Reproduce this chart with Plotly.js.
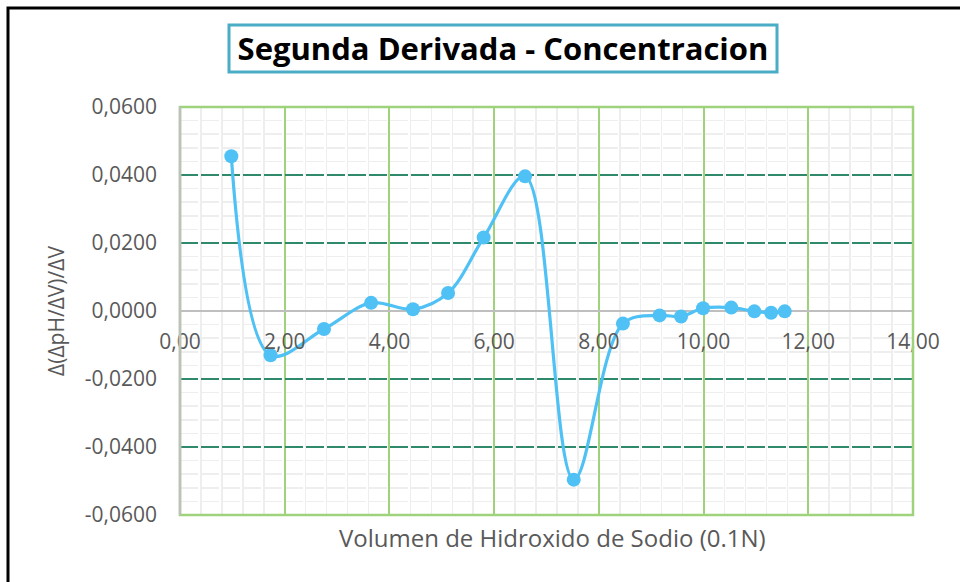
<!DOCTYPE html>
<html>
<head>
<meta charset="utf-8">
<script src="https://cdn.plot.ly/plotly-3.0.1.min.js"></script>
<style>
html,body{margin:0;padding:0;background:#fff;}
#chart{width:960px;height:582px;}
</style>
</head>
<body>
<div id="chart"></div>
<script>
// Data
var volumen = [0.98, 1.73, 2.75, 3.65, 4.45, 5.12, 5.80, 6.59, 7.52, 8.46, 9.16, 9.57, 9.99, 10.53, 10.97, 11.29, 11.55];
var segundaDerivada = [0.0455, -0.0130, -0.0053, 0.0024, 0.0005, 0.0053, 0.0216, 0.0396, -0.0496, -0.0037, -0.0013, -0.0016, 0.0008, 0.0010, -0.0001, -0.0005, -0.0001];

var xTickVals = [0, 2, 4, 6, 8, 10, 12, 14];
var xTickText = ["0,00", "2,00", "4,00", "6,00", "8,00", "10,00", "12,00", "14,00"];
var yTickVals = [-0.06, -0.04, -0.02, 0, 0.02, 0.04, 0.06];
var yTickText = ["-0,0600", "-0,0400", "-0,0200", "0,0000", "0,0200", "0,0400", "0,0600"];

var titleText = "Segunda Derivada - Concentracion";
var xTitle = "Volumen de Hidroxido de Sodio (0.1N)";
var yTitle = "Δ(ΔpH/ΔV)/ΔV";

// layout geometry (pixels)
var W = 960, H = 582;
var M = {l: 180, r: 47, t: 107, b: 67};
var PW = W - M.l - M.r, PH = H - M.t - M.b;
function px2paperX(px){ return (px - M.l) / PW; }
function px2paperY(py){ return (H - M.b - py) / PH; }

// minor grid positions: 5 subdivisions per major interval, skipping majors
function minorVals(lo, hi, major, n){
  var out = [], step = major / n;
  var k0 = Math.round(lo / step), k1 = Math.round(hi / step);
  for (var k = k0; k <= k1; k++){
    if (k % n !== 0) out.push(+(k * step).toFixed(6));
  }
  return out;
}

var green = '#9ed37c';
var gray = '#595959';
var minorColor = '#eeeeee';

var trace = {
  x: volumen,
  y: segundaDerivada,
  type: 'scatter',
  mode: 'lines+markers',
  line: {shape: 'spline', smoothing: 1, color: '#4fc1f5', width: 3.2},
  marker: {size: 14, color: '#4fc1f5'},
  cliponaxis: false,
  hoverinfo: 'x+y'
};

var layout = {
  width: W, height: H,
  margin: M,
  paper_bgcolor: '#ffffff',
  plot_bgcolor: '#ffffff',
  showlegend: false,
  font: {family: 'Open Sans, sans-serif', color: gray},
  title: {
    text: titleText,
    font: {family: 'Open Sans, sans-serif', size: 31, color: '#000000', weight: 'bold'},
    xref: 'container', yref: 'container',
    x: 503 / W, y: 1 - 49 / H,
    xanchor: 'center', yanchor: 'middle'
  },
  xaxis: {
    range: [0, 14],
    anchor: 'free',
    position: 0.5,
    tickmode: 'array',
    tickvals: xTickVals,
    ticktext: xTickText,
    ticks: '',
    ticklabelstandoff: 16,
    tickfont: {size: 21, color: gray},
    showline: false,
    zeroline: false,
    showgrid: true,
    gridcolor: green,
    gridwidth: 2,
    minor: {tickmode: 'array', tickvals: minorVals(0, 14, 2, 5), showgrid: true, gridcolor: minorColor, gridwidth: 1.5, ticks: ''},
    fixedrange: true
  },
  yaxis: {
    range: [-0.06, 0.06],
    tickmode: 'array',
    tickvals: yTickVals,
    ticktext: yTickText,
    ticks: '',
    ticklabelstandoff: 22,
    tickfont: {size: 21, color: gray},
    showline: false,
    zeroline: true,
    zerolinecolor: '#bfbfbf',
    zerolinewidth: 1.5,
    showgrid: true,
    gridcolor: '#2f8a6c',
    gridwidth: 2,
    griddash: '18px,3px',
    minor: {tickmode: 'array', tickvals: minorVals(-0.06, 0.06, 0.02, 5), showgrid: true, gridcolor: minorColor, gridwidth: 1.5, ticks: ''},
    title: {text: yTitle, font: {size: 21, color: gray}, standoff: 14},
    fixedrange: true
  },
  annotations: [
    {
      text: xTitle,
      xref: 'paper', yref: 'paper',
      x: px2paperX(552), y: px2paperY(537),
      xanchor: 'center', yanchor: 'middle',
      showarrow: false,
      font: {size: 24, color: gray}
    }
  ],
  shapes: [
    // plot-area border (green) and left axis line (gray)
    {type: 'rect', xref: 'paper', yref: 'paper', x0: 0, x1: 1, y0: 0, y1: 1,
     line: {color: green, width: 2.5}, layer: 'above'},
    {type: 'line', xref: 'paper', yref: 'paper', x0: 0, x1: 0, y0: 0, y1: 1,
     line: {color: '#bfbfbf', width: 2.5}, layer: 'above'},
    // title box
    {type: 'rect', xref: 'paper', yref: 'paper',
     x0: px2paperX(229), x1: px2paperX(777), y0: px2paperY(72), y1: px2paperY(25),
     line: {color: '#4bacc6', width: 3}, layer: 'above'},
    // outer chart border (black)
    {type: 'rect', xref: 'paper', yref: 'paper',
     x0: px2paperX(8), x1: px2paperX(1000), y0: px2paperY(640), y1: px2paperY(8),
     line: {color: '#000000', width: 3}, layer: 'above'}
  ]
};

Plotly.newPlot('chart', [trace], layout, {displayModeBar: false, staticPlot: true});
</script>
</body>
</html>
